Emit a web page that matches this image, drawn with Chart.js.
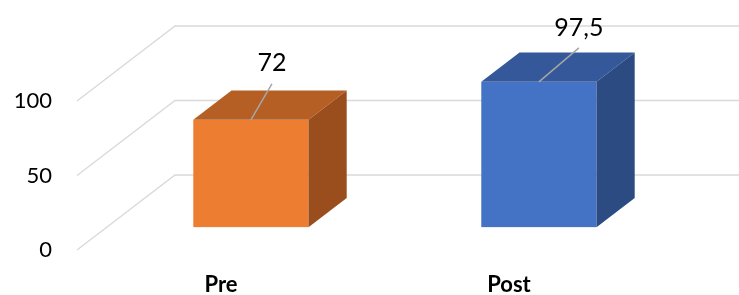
<!DOCTYPE html>
<html>
<head>
<meta charset="utf-8">
<script src="https://cdn.jsdelivr.net/npm/chart.js@4"></script>
<style>
  html, body { margin: 0; padding: 0; background: #fff; }
  #wrap { width: 739px; height: 295px; }
</style>
</head>
<body>
<div id="wrap"><canvas id="grafik" width="739" height="295"></canvas></div>
<script>
// values
const categories = ["Pre", "Post"];
const values = [72, 97.5];
const yTicks = [0, 50, 100];

// 3D look
const frontColors = ["#ED7D31", "#4472C4"];
const topColors = ["#B55F24", "#34589A"];
const sideColors = ["#9A4E1D", "#2C4B82"];
const DX = 98, DY = -75;          // floor depth (front edge -> back wall)
const F = 0.305, B = 0.695;       // bar front / back depth fraction
const labelShift = [[21, -57], [40, -54]];   // data label position from bar top
const leaderShift = [[21, -36], [40, -34]];

const FONT = "Lato, 'Open Sans', sans-serif";

function fmt(v) {
    return String(v).replace(".", ",");
}

const box3d = {
    id: "box3d",
    beforeDatasetsDraw(chart) {
        const ctx = chart.ctx;
        const ys = chart.scales.y;
        const left = chart.chartArea.left;
        ctx.save();
        ctx.strokeStyle = "#D9D9D9";
        ctx.lineWidth = 1.3;
        ys.ticks.forEach((t) => {
            const y = ys.getPixelForValue(t.value);
            ctx.beginPath();
            ctx.moveTo(left, y);
            ctx.lineTo(left + DX, y + DY);
            ctx.lineTo(chart.width, y + DY);
            ctx.stroke();
        });
        ctx.restore();
    },
    afterDatasetsDraw(chart) {
        const ctx = chart.ctx;
        const meta = chart.getDatasetMeta(0);
        ctx.save();
        meta.data.forEach((bar, i) => {
            const p = bar.getProps(["x", "y", "base", "width"], true);
            const x0 = p.x - p.width / 2 + F * DX;
            const x1 = p.x + p.width / 2 + F * DX;
            const top = p.y + F * DY;
            const bot = p.base + F * DY;
            const ddx = (B - F) * DX, ddy = (B - F) * DY;

            // front
            ctx.fillStyle = frontColors[i];
            ctx.fillRect(x0, top, x1 - x0, bot - top);
            // top
            ctx.fillStyle = topColors[i];
            ctx.beginPath();
            ctx.moveTo(x0, top);
            ctx.lineTo(x0 + ddx, top + ddy);
            ctx.lineTo(x1 + ddx, top + ddy);
            ctx.lineTo(x1, top);
            ctx.closePath();
            ctx.fill();
            // side
            ctx.fillStyle = sideColors[i];
            ctx.beginPath();
            ctx.moveTo(x1, top);
            ctx.lineTo(x1 + ddx, top + ddy);
            ctx.lineTo(x1 + ddx, bot + ddy);
            ctx.lineTo(x1, bot);
            ctx.closePath();
            ctx.fill();

            // leader + data label
            const cx = (x0 + x1) / 2;
            ctx.strokeStyle = "#A6A6A6";
            ctx.lineWidth = 1.5;
            ctx.beginPath();
            ctx.moveTo(cx, top);
            ctx.lineTo(cx + leaderShift[i][0], top + leaderShift[i][1]);
            ctx.stroke();

            ctx.fillStyle = "#000";
            ctx.font = "25px " + FONT;
            ctx.textAlign = "center";
            ctx.textBaseline = "middle";
            ctx.fillText(fmt(values[i]), cx + labelShift[i][0], top + labelShift[i][1]);
        });
        ctx.restore();
    }
};

const chart = new Chart(document.getElementById("grafik"), {
    type: "bar",
    data: {
        labels: categories,
        datasets: [{
            data: values,
            backgroundColor: "rgba(0,0,0,0)",
            categoryPercentage: 1,
            barPercentage: 0.4
        }]
    },
    options: {
        responsive: false,
        animation: false,
        events: [],
        layout: { padding: { top: 101, right: 86, left: 0, bottom: 0 } },
        plugins: { legend: { display: false }, tooltip: { enabled: false } },
        scales: {
            x: {
                grid: { display: false, drawTicks: false },
                border: { display: false },
                ticks: { padding: 22, color: "#000", font: { family: FONT, size: 22, weight: "bold" } },
                afterFit(s) { s.height = 45; }
            },
            y: {
                min: 0,
                max: 100,
                afterBuildTicks(s) { s.ticks = yTicks.map((v) => ({ value: v })); },
                grid: { display: false, drawTicks: false },
                border: { display: false },
                ticks: { padding: 25, color: "#000", font: { family: FONT, size: 22 } },
                afterFit(s) { s.width = 77; }
            }
        }
    },
    plugins: [box3d]
});
</script>
</body>
</html>
